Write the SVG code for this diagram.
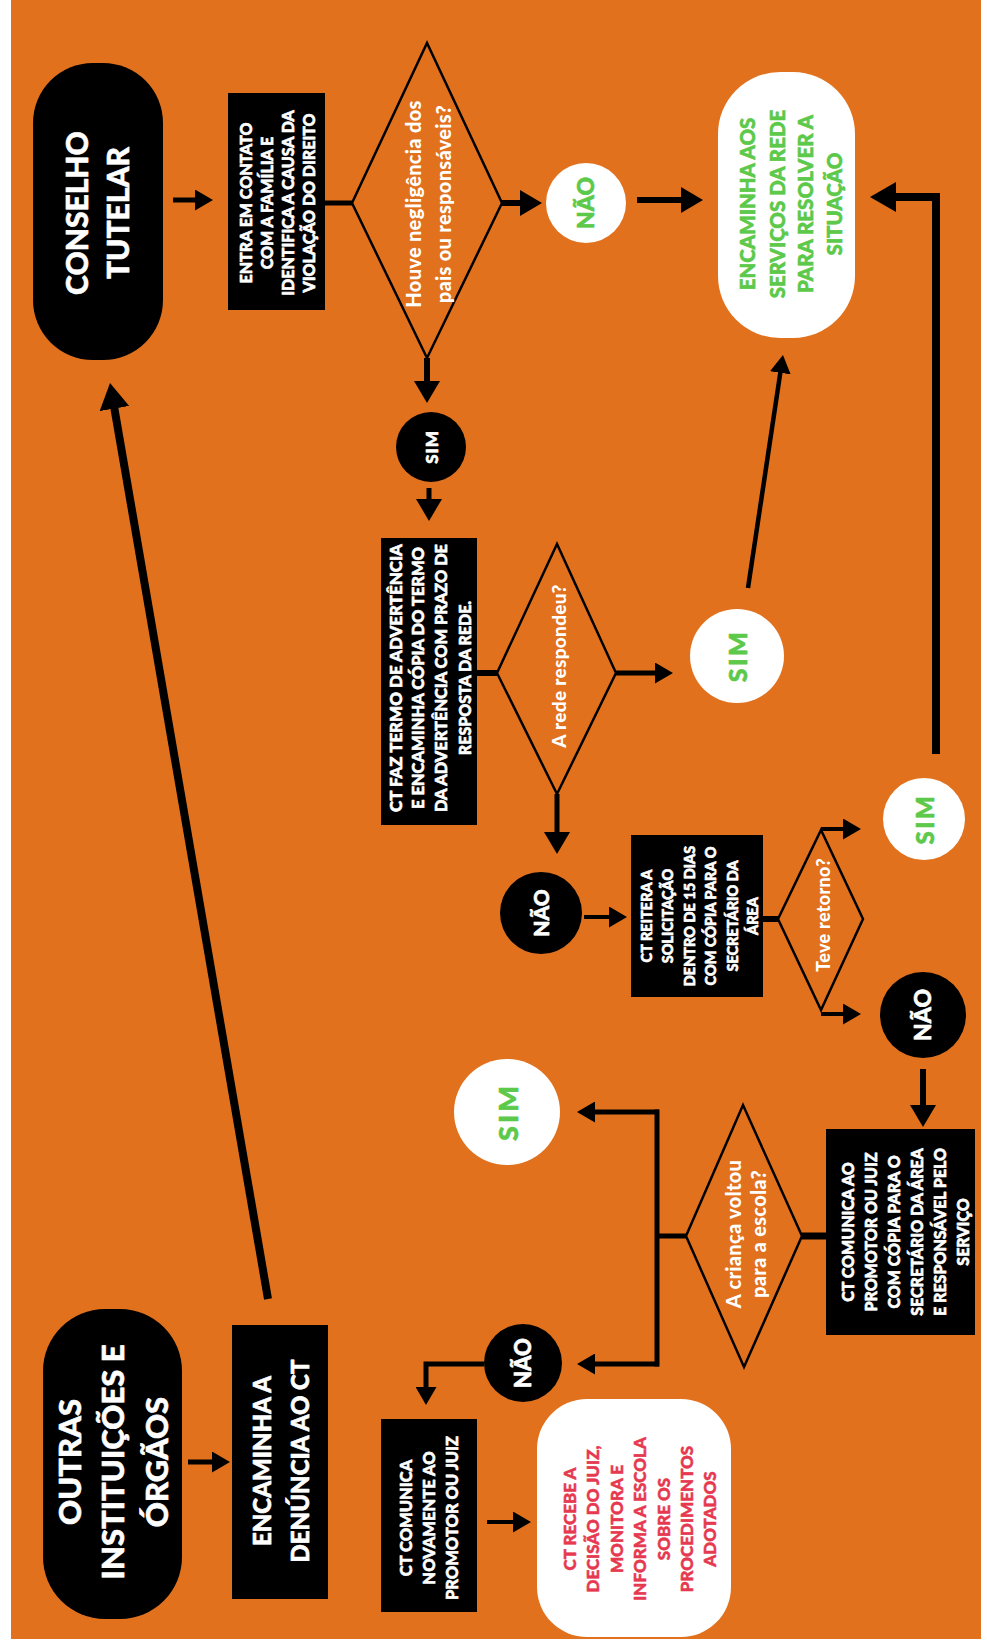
<svg xmlns="http://www.w3.org/2000/svg" width="987" height="1643" viewBox="0 0 987 1643">
<defs>
<style>
text{font-family:Lato,'Liberation Sans',sans-serif;font-weight:900;text-anchor:middle;stroke-linejoin:round}
.w{fill:#fff;stroke:#fff;stroke-width:0.6}.g{fill:#5cc94a;stroke:#5cc94a;stroke-width:0.6}.r{fill:#e63950;stroke:#e63950;stroke-width:0.5}
.q{fill:#fff;stroke:none;letter-spacing:0.3px}
.blk{fill:#000}.wht{fill:#fff}
.dia{fill:none;stroke:#000;stroke-width:2.5;stroke-linejoin:miter}
.ln{fill:none;stroke:#000;stroke-linecap:butt;stroke-linejoin:miter}
</style>
<marker id="aL" viewBox="0 0 10 10" preserveAspectRatio="none" markerUnits="userSpaceOnUse" markerWidth="26" markerHeight="30" refX="3" refY="5" orient="auto"><path d="M0,0 L10,5 L0,10 z" fill="#000"/></marker>
<marker id="aM" viewBox="0 0 10 10" preserveAspectRatio="none" markerUnits="userSpaceOnUse" markerWidth="22" markerHeight="26" refX="3" refY="5" orient="auto"><path d="M0,0 L10,5 L0,10 z" fill="#000"/></marker>
<marker id="aS" viewBox="0 0 10 10" preserveAspectRatio="none" markerUnits="userSpaceOnUse" markerWidth="18" markerHeight="21" refX="3" refY="5" orient="auto"><path d="M0,0 L10,5 L0,10 z" fill="#000"/></marker>
</defs>
<rect x="0" y="0" width="987" height="1643" fill="#fff"/>
<rect x="11" y="0" width="970" height="1639" fill="#e2711d"/>

<g id="connectors">
<path class="ln" stroke-width="5" d="M173,200 H200.4" marker-end="url(#aS)"/>
<path class="ln" stroke-width="5" d="M325,203 H352"/>
<path class="ln" stroke-width="6" d="M502,203 H526.6" marker-end="url(#aM)"/>
<path class="ln" stroke-width="6" d="M637,200 H687.6" marker-end="url(#aM)"/>
<path class="ln" stroke-width="6" d="M427,358 V387.6" marker-end="url(#aM)"/>
<path class="ln" stroke-width="5" d="M429,488 V505.6" marker-end="url(#aM)"/>
<path class="ln" stroke-width="6" d="M477,673 H497"/>
<path class="ln" stroke-width="5" d="M616,673 H660.4" marker-end="url(#aS)"/>
<path class="ln" stroke-width="4.5" d="M748,588 L781.1,367.5" marker-end="url(#aS)"/>
<path class="ln" stroke-width="8" d="M936,754 V197 H888.2" marker-end="url(#aL)"/>
<path class="ln" stroke-width="5" d="M557,794 V838.6" marker-end="url(#aM)"/>
<path class="ln" stroke-width="4" d="M584,917 H614.4" marker-end="url(#aS)"/>
<path class="ln" stroke-width="6" d="M763,919 H778"/>
<path class="ln" stroke-width="4" d="M821,829 H848.4" marker-end="url(#aS)"/>
<path class="ln" stroke-width="4" d="M821,1014 H848.4" marker-end="url(#aS)"/>
<path class="ln" stroke-width="6" d="M923,1069 V1111.6" marker-end="url(#aM)"/>
<path class="ln" stroke-width="7" d="M802,1236 H826"/>
<path class="ln" stroke-width="5" d="M686,1236 H657"/>
<path class="ln" stroke-width="5" d="M657,1109.5 V1366.5"/>
<path class="ln" stroke-width="5" d="M659,1112 H589.6" marker-end="url(#aS)"/>
<path class="ln" stroke-width="5" d="M659,1364 H589.6" marker-end="url(#aS)"/>
<path class="ln" stroke-width="5" d="M484,1364 H426 V1392.4" marker-end="url(#aS)"/>
<path class="ln" stroke-width="4" d="M487,1522 H518.4" marker-end="url(#aS)"/>
<path class="ln" stroke-width="5" d="M188,1462 H217.4" marker-end="url(#aS)"/>
<path class="ln" stroke-width="8" d="M268,1299 L113.1,400.9" marker-end="url(#aL)"/>
</g>

<g id="conselho-tutelar">
<rect class="blk" x="33" y="63" width="130" height="297" rx="60"/>
<text class="w" font-size="30" transform="translate(98,213) rotate(-90)"><tspan x="0" y="-10.2">CONSELHO</tspan><tspan x="0" y="30.8">TUTELAR</tspan></text>
</g>

<g id="entra-contato">
<rect class="blk" x="228" y="93" width="97" height="217"/>
<text class="w" font-size="16" transform="translate(276.5,203) rotate(-90)"><tspan x="0" y="-24.7">ENTRA EM CONTATO</tspan><tspan x="0" y="-3.7">COM A FAMÍLIA E</tspan><tspan x="0" y="17.3">IDENTIFICA A CAUSA DA</tspan><tspan x="0" y="38.3">VIOLAÇÃO DO DIREITO</tspan></text>
</g>

<g id="decisao-negligencia">
<polygon class="dia" points="352,203 427,43 502,203 427,358"/>
<text class="q" font-size="20" transform="translate(429,204) rotate(-90)"><tspan x="0" y="-7.8">Houve negligência dos</tspan><tspan x="0" y="22.2">pais ou responsáveis?</tspan></text>
</g>

<g id="nao-1">
<circle class="wht" cx="586" cy="203" r="40"/>
<text class="g" font-size="23" transform="translate(586,203) rotate(-90)" y="8.3">NÃO</text>
</g>

<g id="encaminha-servicos">
<rect class="wht" x="718" y="72" width="137" height="266" rx="62"/>
<text class="g" font-size="20.5" transform="translate(791,204) rotate(-90)"><tspan x="0" y="-35.6">ENCAMINHA AOS</tspan><tspan x="0" y="-5.6">SERVIÇOS DA REDE</tspan><tspan x="0" y="22.4">PARA RESOLVER A</tspan><tspan x="0" y="51.4">SITUAÇÃO</tspan></text>
</g>

<g id="sim-1">
<circle class="blk" cx="431" cy="447" r="35"/>
<text class="w" font-size="17" letter-spacing="1" transform="translate(431.5,447) rotate(-90)" y="6.1">SIM</text>
</g>

<g id="ct-faz-termo">
<rect class="blk" x="381" y="538" width="96" height="287"/>
<text class="w" font-size="16" transform="translate(429,678) rotate(-90)"><tspan x="0" y="-27.2" textLength="268" lengthAdjust="spacingAndGlyphs">CT FAZ TERMO DE ADVERTÊNCIA</tspan><tspan x="0" y="-5.2" textLength="262" lengthAdjust="spacingAndGlyphs">E ENCAMINHA CÓPIA DO TERMO</tspan><tspan x="0" y="17.8" textLength="268" lengthAdjust="spacingAndGlyphs">DA ADVERTÊNCIA COM PRAZO DE</tspan><tspan x="0" y="41.8">RESPOSTA DA REDE.</tspan></text>
</g>

<g id="decisao-rede">
<polygon class="dia" points="497,673 557,544 616,673 557,794"/>
<text class="q" font-size="19" transform="translate(559,666) rotate(-90)" y="6.8">A rede respondeu?</text>
</g>

<g id="sim-2">
<circle class="wht" cx="737" cy="656" r="47"/>
<text class="g" font-size="25" letter-spacing="2.5" transform="translate(738,656) rotate(-90)" y="9">SIM</text>
</g>

<g id="nao-2">
<circle class="blk" cx="541" cy="913" r="41"/>
<text class="w" font-size="21" transform="translate(541,913) rotate(-90)" y="7.6">NÃO</text>
</g>

<g id="ct-reitera">
<rect class="blk" x="631" y="835" width="132" height="162"/>
<text class="w" font-size="14.5" transform="translate(697,916) rotate(-90)"><tspan x="0" y="-44.8">CT REITERA A</tspan><tspan x="0" y="-23.8">SOLICITAÇÃO</tspan><tspan x="0" y="-1.8">DENTRO DE 15 DIAS</tspan><tspan x="0" y="19.2">COM CÓPIA PARA O</tspan><tspan x="0" y="41.2">SECRETÁRIO DA</tspan><tspan x="0" y="61.2">ÁREA</tspan></text>
</g>

<g id="decisao-retorno">
<polygon class="dia" points="778,919 821,830 863,919 821,1010"/>
<text class="q" font-size="18" transform="translate(823,915) rotate(-90)" y="6.5">Teve retorno?</text>
</g>

<g id="sim-3">
<circle class="wht" cx="924" cy="819" r="41"/>
<text class="g" font-size="24" letter-spacing="2.5" transform="translate(925,819) rotate(-90)" y="8.6">SIM</text>
</g>

<g id="nao-3">
<circle class="blk" cx="923" cy="1015" r="43"/>
<text class="w" font-size="23" transform="translate(923,1015) rotate(-90)" y="8.3">NÃO</text>
</g>

<g id="ct-comunica-promotor">
<rect class="blk" x="826" y="1129" width="149" height="206"/>
<text class="w" font-size="16" transform="translate(900,1232) rotate(-90)"><tspan x="0" y="-46.2">CT COMUNICA AO</tspan><tspan x="0" y="-23.2">PROMOTOR OU JUIZ</tspan><tspan x="0" y="-0.2">COM CÓPIA PARA O</tspan><tspan x="0" y="22.8">SECRETÁRIO DA ÁREA</tspan><tspan x="0" y="45.8">E RESPONSÁVEL PELO</tspan><tspan x="0" y="68.8">SERVIÇO</tspan></text>
</g>

<g id="decisao-escola">
<polygon class="dia" points="686,1236 743,1105 802,1236 744,1367"/>
<text class="q" font-size="20" transform="translate(746,1234) rotate(-90)"><tspan x="0" y="-5.3">A criança voltou</tspan><tspan x="0" y="19.7">para a escola?</tspan></text>
</g>

<g id="sim-4">
<circle class="wht" cx="507" cy="1112" r="53"/>
<text class="g" font-size="27" letter-spacing="3" transform="translate(508,1112) rotate(-90)" y="9.7">SIM</text>
</g>

<g id="nao-4">
<circle class="blk" cx="523" cy="1363" r="39"/>
<text class="w" font-size="22" transform="translate(523,1363) rotate(-90)" y="7.9">NÃO</text>
</g>

<g id="ct-comunica-novamente">
<rect class="blk" x="381" y="1419" width="96" height="193"/>
<text class="w" font-size="16.5" transform="translate(429,1518) rotate(-90)"><tspan x="0" y="-17.1">CT COMUNICA</tspan><tspan x="0" y="5.9">NOVAMENTE AO</tspan><tspan x="0" y="28.9">PROMOTOR OU JUIZ</tspan></text>
</g>

<g id="ct-recebe">
<rect class="wht" x="537" y="1399" width="194" height="238" rx="50"/>
<text class="r" font-size="17" transform="translate(640,1519) rotate(-90)"><tspan x="0" y="-63.9">CT RECEBE A</tspan><tspan x="0" y="-40.9">DECISÃO DO JUIZ,</tspan><tspan x="0" y="-16.9">MONITORA E</tspan><tspan x="0" y="6.1">INFORMA A ESCOLA</tspan><tspan x="0" y="30.1">SOBRE OS</tspan><tspan x="0" y="53.1">PROCEDIMENTOS</tspan><tspan x="0" y="76.1">ADOTADOS</tspan></text>
</g>

<g id="outras-instituicoes">
<rect class="blk" x="43" y="1309" width="139" height="310" rx="62"/>
<text class="w" font-size="31" transform="translate(113,1462) rotate(-90)"><tspan x="0" y="-32">OUTRAS</tspan><tspan x="0" y="11.2">INSTITUIÇÕES E</tspan><tspan x="0" y="55">ÓRGÃOS</tspan></text>
</g>

<g id="encaminha-denuncia">
<rect class="blk" x="232" y="1325" width="96" height="274"/>
<text class="w" font-size="24" transform="translate(280,1461) rotate(-90)"><tspan x="0" y="-9.4">ENCAMINHA A</tspan><tspan x="0" y="28.6">DENÚNCIA AO CT</tspan></text>
</g>
</svg>
